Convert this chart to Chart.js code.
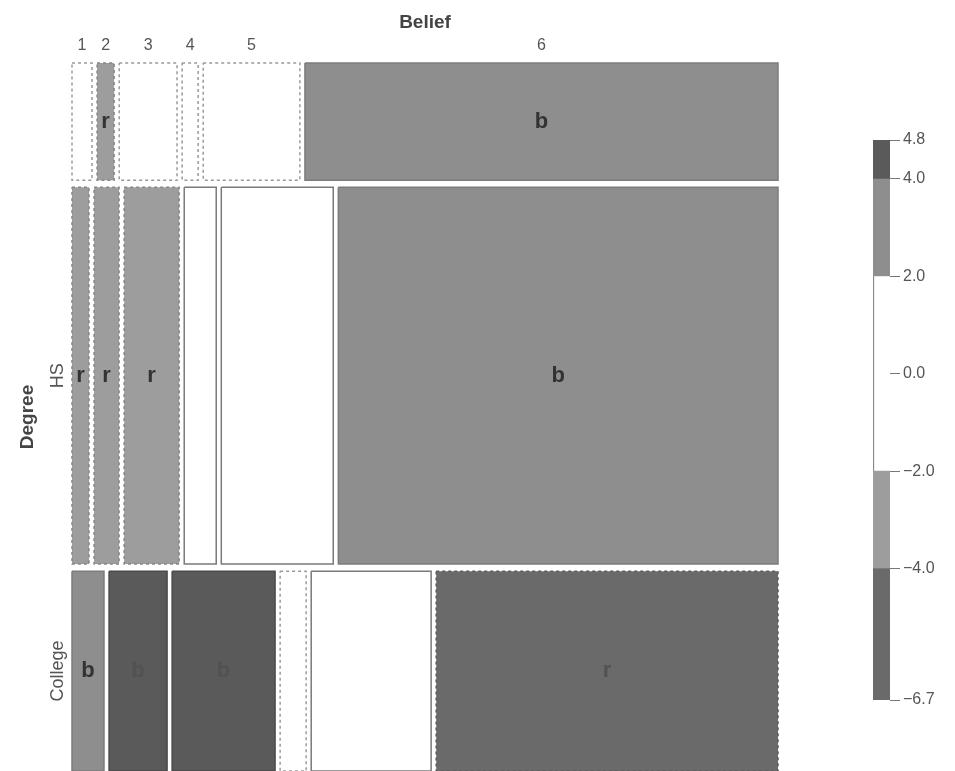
<!DOCTYPE html>
<html lang="en">
<head>
  <meta charset="UTF-8"/>
  <title>Belief by Degree – mosaic</title>
  <script src="https://cdn.jsdelivr.net/npm/chart.js"></script>
  <style>
    body { margin: 0; background: #fff; }
    #wrap { position: relative; width: 955px; height: 771px; overflow: hidden; }
    #chart { position: absolute; left: 0; top: 0; }
    #legend { position: absolute; left: 855px; top: 120px; }
  </style>
</head>
<body>
<div id="wrap">
  <canvas id="chart" width="955" height="771"></canvas>
  <canvas id="legend" width="100" height="600"></canvas>
</div>

<script>
  // rows (Degree) and columns (Belief)
  const degrees = ['', 'HS', 'College'];
  const beliefs = ['1', '2', '3', '4', '5', '6'];

  // share of each degree row (% of total)
  const degreeShare = [16.9, 54.3, 28.8];

  // belief share within each degree row (%)
  const shareNoHS    = [2.94, 2.5, 8.5, 2.35, 14.2, 69.5];
  const shareHS      = [2.5, 3.67, 8.08, 4.7, 16.45, 64.6];
  const shareCollege = [4.7, 8.52, 15.12, 3.82, 17.62, 50.22];

  // Pearson residuals used for shading
  const residNoHS    = [-1.4, -2.6, -1.7, -0.9, -1.9, 3.1];
  const residHS      = [-3.1, -3.3, -3.6, 1.2, 0.9, 3.7];
  const residCollege = [3.2, 4.5, 4.8, -0.6, 1.4, -6.7];

  // legend
  const legendBreaks = [-6.7, -4.0, -2.0, 2.0, 4.0, 4.8];
  const legendTicks  = [4.8, 4.0, 2.0, 0.0, -2.0, -4.0, -6.7];

  const rowShares = [shareNoHS, shareHS, shareCollege];
  const rowResid  = [residNoHS, residHS, residCollege];

  const FONT = '"Liberation Sans", Arial, Helvetica, sans-serif';
  const xGap = 0.0072, yGap = 0.0099;

  function shade(r) {
    if (r > 4) return '#5a5a5a';
    if (r > 2) return '#8e8e8e';
    if (r >= -2) return '#ffffff';
    if (r >= -4) return '#9d9d9d';
    return '#6a6a6a';
  }
  function edge(r) {
    if (r > 4) return '#4a4a4a';
    if (r > 2) return '#7c7c7c';
    if (r >= -2) return r >= 0 ? '#7a7a7a' : '#9a9a9a';
    if (r >= -4) return '#868686';
    return '#5c5c5c';
  }

  // mosaic layout in unit coordinates (0..1 both ways, y from top)
  function buildCells() {
    const out = [];
    const rowTot = degreeShare.reduce((a, b) => a + b, 0);
    let y0 = 0;
    degreeShare.forEach((ds, i) => {
      const h = ds / rowTot * (1 - yGap * (degreeShare.length - 1));
      const shares = rowShares[i];
      const tot = shares.reduce((a, b) => a + b, 0);
      let x0 = 0;
      shares.forEach((s, j) => {
        const w = s / tot * (1 - xGap * (shares.length - 1));
        out.push({ row: i, col: j, x0: x0, x1: x0 + w, y0: y0, y1: y0 + h, res: rowResid[i][j] });
        x0 += w + xGap;
      });
      y0 += h + yGap;
    });
    return out;
  }
  const cells = buildCells();

  const labelPlugin = {
    id: 'mosaicLabels',
    afterDatasetsDraw(chart) {
      const { ctx, chartArea: a, scales: { x, y } } = chart;
      ctx.save();
      ctx.textAlign = 'center';
      ctx.textBaseline = 'middle';

      // letters inside shaded cells
      cells.forEach(c => {
        if (Math.abs(c.res) <= 2) return;
        const px = (x.getPixelForValue(c.x0) + x.getPixelForValue(c.x1)) / 2;
        const t = Math.max(a.top, y.getPixelForValue(c.y0));
        const b = Math.min(a.bottom, y.getPixelForValue(c.y1));
        ctx.font = 'bold 22px ' + FONT;
        ctx.fillStyle = Math.abs(c.res) > 4 ? '#525252' : '#333';
        ctx.fillText(c.res > 0 ? 'b' : 'r', px, (t + b) / 2);
      });

      // Belief title + column labels above the top row
      ctx.fillStyle = '#444';
      ctx.font = 'bold 19px ' + FONT;
      ctx.fillText('Belief', (a.left + a.right) / 2, a.top - 40);
      ctx.font = '16px ' + FONT;
      ctx.fillStyle = '#555';
      cells.filter(c => c.row === 0).forEach(c => {
        const px = (x.getPixelForValue(c.x0) + x.getPixelForValue(c.x1)) / 2;
        ctx.fillText(beliefs[c.col], px, a.top - 17);
      });

      // Degree title + row labels (rotated)
      ctx.save();
      ctx.translate(a.left - 44, (a.top + a.bottom) / 2);
      ctx.rotate(-Math.PI / 2);
      ctx.font = 'bold 19px ' + FONT;
      ctx.fillStyle = '#444';
      ctx.fillText('Degree', 0, 0);
      ctx.restore();

      ctx.font = '18px ' + FONT;
      ctx.fillStyle = '#555';
      cells.filter(c => c.col === 0).forEach(c => {
        const t = Math.max(a.top, y.getPixelForValue(c.y0));
        const b = Math.min(a.bottom, y.getPixelForValue(c.y1));
        ctx.save();
        ctx.translate(a.left - 14, (t + b) / 2);
        ctx.rotate(-Math.PI / 2);
        ctx.fillText(degrees[c.row], 0, 0);
        ctx.restore();
      });
      ctx.restore();
    }
  };

  new Chart(document.getElementById('chart').getContext('2d'), {
    type: 'scatter',
    data: {
      datasets: cells.map(c => ({
        data: [
          { x: c.x0, y: c.y0 }, { x: c.x1, y: c.y0 },
          { x: c.x1, y: c.y1 }, { x: c.x0, y: c.y1 }, { x: c.x0, y: c.y0 }
        ],
        showLine: true,
        fill: 'shape',
        backgroundColor: shade(c.res),
        borderColor: edge(c.res),
        borderWidth: 1.5,
        borderDash: c.res < 0 ? [3, 3] : [],
        pointRadius: 0,
        pointHoverRadius: 0,
        tension: 0,
        clip: false
      }))
    },
    options: {
      responsive: false,
      devicePixelRatio: 1,
      animation: false,
      layout: { padding: { left: 72, top: 63, right: 177, bottom: 0 } },
      plugins: { legend: { display: false }, tooltip: { enabled: false } },
      scales: {
        x: { type: 'linear', min: 0, max: 1, display: false },
        y: { type: 'linear', min: 0, max: 1, reverse: true, display: false }
      }
    },
    plugins: [labelPlugin]
  });

  // colour key
  const bandMid = legendBreaks.slice(0, -1).map((b, i) => (b + legendBreaks[i + 1]) / 2);
  new Chart(document.getElementById('legend').getContext('2d'), {
    type: 'bar',
    data: {
      labels: [''],
      datasets: bandMid.map((m, i) => ({
        data: [[legendBreaks[i], legendBreaks[i + 1]]],
        backgroundColor: shade(m),
        borderColor: '#8a8a8a',
        borderWidth: Math.abs(m) < 2 ? { left: 1.5, right: 0, top: 0, bottom: 0 } : 0,
        borderSkipped: false,
        grouped: false,
        barPercentage: 1,
        categoryPercentage: 1
      }))
    },
    options: {
      responsive: false,
      devicePixelRatio: 1,
      animation: false,
      layout: { padding: { left: 18, top: 20, right: 0, bottom: 20 } },
      plugins: { legend: { display: false }, tooltip: { enabled: false } },
      scales: {
        x: { display: false },
        y: {
          position: 'right',
          min: -6.7,
          max: 4.8,
          afterBuildTicks: s => { s.ticks = legendTicks.map(v => ({ value: v })); },
          afterFit: s => { s.width = 65; },
          border: { display: false },
          grid: { drawOnChartArea: false, drawTicks: true, tickLength: 10, color: '#777', lineWidth: 1 },
          ticks: {
            color: '#555',
            padding: 3,
            font: { family: FONT, size: 16 },
            callback: v => v.toFixed(1).replace('-', '\u2212')
          }
        }
      }
    }
  });
</script>
</body>
</html>
